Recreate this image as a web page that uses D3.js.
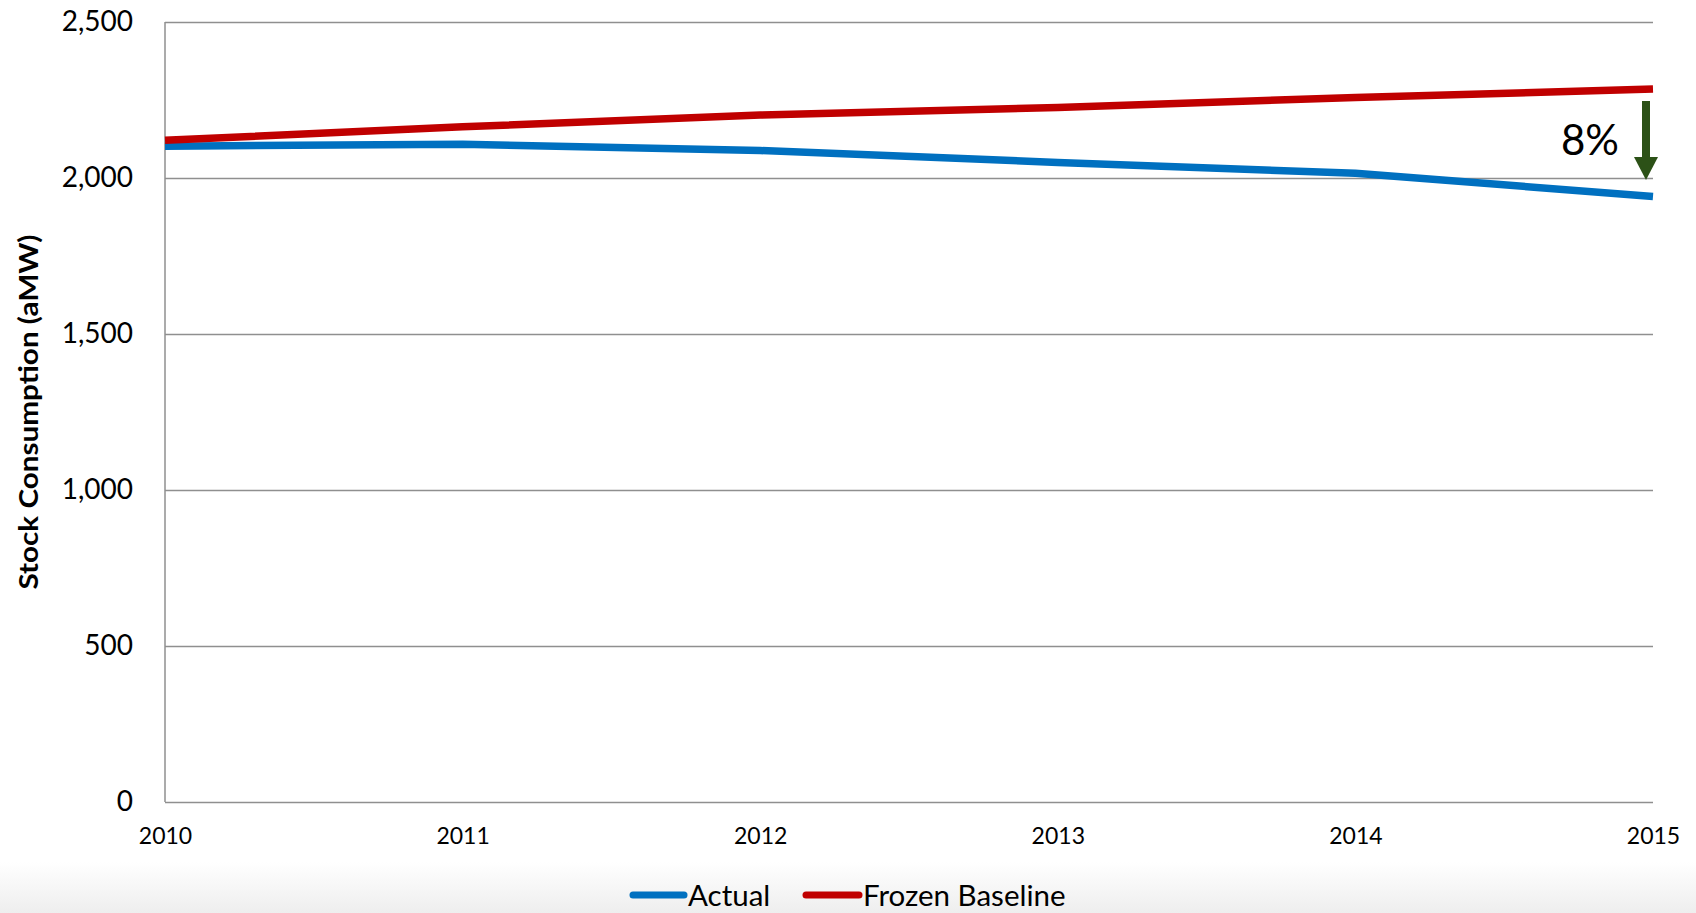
<!DOCTYPE html>
<html>
<head>
<meta charset="utf-8">
<script src="https://cdn.jsdelivr.net/npm/d3@7"></script>
<style>
  html, body { margin: 0; padding: 0; background: #fff; }
  svg { display: block; }
  text { font-family: Lato, "Open Sans", sans-serif; fill: #000; }
</style>
</head>
<body>
<svg id="chart" width="1696" height="913"></svg>
<script>
const years = [2010, 2011, 2012, 2013, 2014, 2015];
const actual = [2102, 2108, 2088, 2050, 2015, 1941];
const frozenBaseline = [2121, 2164, 2202, 2226, 2258, 2285];
const yTicks = [0, 500, 1000, 1500, 2000, 2500];
const seriesNames = ["Actual", "Frozen Baseline"];
const seriesColors = ["#0070c0", "#c00000"];
const yTitle = "Stock Consumption (aMW)";
const annotation = "8%";

const W = 1696, H = 913;
const m = { left: 165, right: 1653, top: 22, bottom: 802 };
const svg = d3.select("#chart");

// bottom gradient band
const defs = svg.append("defs");
const grad = defs.append("linearGradient").attr("id", "bg").attr("x1", 0).attr("y1", 0).attr("x2", 0).attr("y2", 1);
grad.append("stop").attr("offset", "0%").attr("stop-color", "#ffffff");
grad.append("stop").attr("offset", "100%").attr("stop-color", "#eeeeee");
svg.append("rect").attr("x", 0).attr("y", 862).attr("width", W).attr("height", H - 862).attr("fill", "url(#bg)");

const x = d3.scaleLinear().domain([2010, 2015]).range([m.left, m.right]);
const y = d3.scaleLinear().domain([0, 2500]).range([m.bottom, m.top]);

// gridlines
const gy = svg.append("g").attr("transform", `translate(${m.left},0)`)
  .call(d3.axisLeft(y).tickValues(yTicks).tickSize(-(m.right - m.left)).tickFormat(d3.format(",")).tickPadding(32));
gy.select(".domain").remove();
gy.selectAll(".tick line").attr("stroke", "#8f8f8f").attr("stroke-width", 1.5);
gy.selectAll(".tick text").attr("font-size", 28).attr("fill", "#000");

// left axis line
svg.append("line").attr("x1", m.left).attr("x2", m.left).attr("y1", m.top).attr("y2", m.bottom)
  .attr("stroke", "#8f8f8f").attr("stroke-width", 1.5);

// x axis
const gx = svg.append("g").attr("transform", `translate(0,${m.bottom})`)
  .call(d3.axisBottom(x).tickValues(years).tickFormat(d3.format("d")).tickSize(0).tickPadding(26));
gx.select(".domain").remove();
gx.selectAll(".tick text").attr("font-size", 23).attr("fill", "#000");

// lines
const line = d3.line().x((d, i) => x(years[i])).y(d => y(d));
[actual, frozenBaseline].forEach((s, k) => {
  svg.append("path").datum(s).attr("d", line).attr("fill", "none")
    .attr("stroke", seriesColors[k]).attr("stroke-width", 7.5).attr("stroke-linejoin", "round");
});

// y title
svg.append("text").attr("transform", `translate(38,${(m.top + m.bottom) / 2}) rotate(-90)`)
  .attr("text-anchor", "middle").attr("font-size", 27).attr("font-weight", "bold")
  .attr("textLength", 355).attr("lengthAdjust", "spacingAndGlyphs").text(yTitle);

// arrow annotation
const ax = 1646;
const arrowTop = 101, shaftEnd = 157, tip = 180;
svg.append("rect").attr("x", ax - 4).attr("y", arrowTop).attr("width", 8).attr("height", shaftEnd - arrowTop + 1).attr("fill", "#2c5117");
svg.append("path").attr("d", `M${ax - 12},${shaftEnd} L${ax + 12},${shaftEnd} L${ax},${tip} Z`).attr("fill", "#2c5117");
svg.append("text").attr("x", 1619).attr("y", 155).attr("text-anchor", "end").attr("font-size", 42).text(annotation);

// legend
const leg = svg.append("g");
const legItems = [{ x1: 633, x2: 684, tx: 688 }, { x1: 806, x2: 859, tx: 863 }];
legItems.forEach((it, k) => {
  leg.append("line").attr("x1", it.x1).attr("x2", it.x2).attr("y1", 895).attr("y2", 895)
    .attr("stroke", seriesColors[k]).attr("stroke-width", 7).attr("stroke-linecap", "round");
  leg.append("text").attr("x", it.tx).attr("y", 906).attr("font-size", 29.5).text(seriesNames[k]);
});
</script>
</body>
</html>
